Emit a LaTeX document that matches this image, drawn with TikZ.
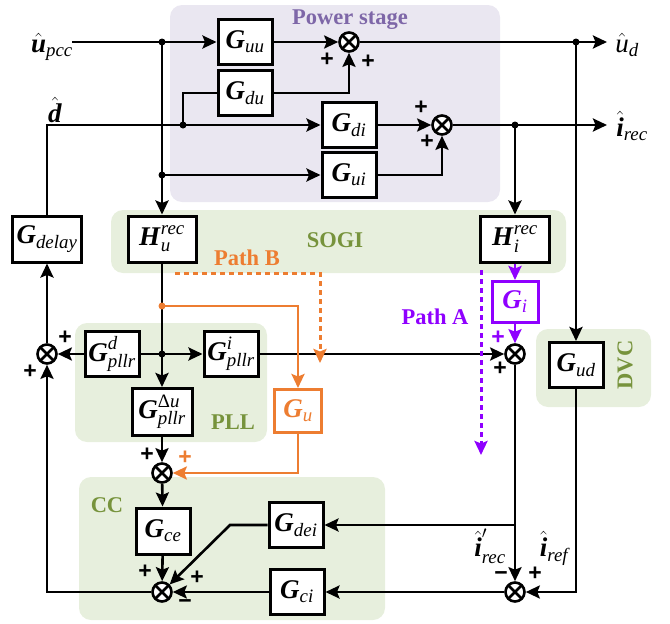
\documentclass[tikz,border=0pt]{standalone}
\usepackage{fontspec}
\usepackage{amsmath}
\setmainfont{Liberation Serif}
\newfontfamily\sgnfont{Liberation Sans}
\usetikzlibrary{arrows.meta}
\definecolor{psbg}{HTML}{EAE7F1}
\definecolor{pstxt}{HTML}{7E67A8}
\definecolor{gbg}{HTML}{E7EFDD}
\definecolor{gtxt}{HTML}{77933C}
\definecolor{orng}{HTML}{ED7D31}
\definecolor{purp}{HTML}{8F00FF}
\newcommand\bi[1]{\textbf{\textit{#1}}}
\newcommand\ti[1]{\textit{#1}}
\begin{document}
\begin{tikzpicture}[x=1pt,y=-1pt,
  font=\fontsize{27}{30}\selectfont,
  blk/.style={draw,line width=3pt,fill=white,minimum width=54pt,minimum height=45pt,inner sep=0pt},
  sumn/.style={circle,draw,line width=2.6pt,fill=white,minimum size=19pt,inner sep=0pt,
    path picture={\draw[line width=2.6pt] (path picture bounding box.north west)--(path picture bounding box.south east)
      (path picture bounding box.north east)--(path picture bounding box.south west);}},
  wire/.style={line width=2.6pt},
  arr/.style={wire,-{Stealth[length=14pt,width=13pt,inset=2.5pt]}},
  sg/.style={font=\sgnfont\bfseries\fontsize{23}{23}\selectfont,inner sep=0pt},
  grp/.style={font=\bfseries\fontsize{22.5}{24}\selectfont,inner sep=0pt},
  lbl/.style={inner sep=0pt},
  dot/.style={circle,fill,inner sep=0pt,minimum size=7pt}]
\useasboundingbox (0,0) rectangle (670,624);
% backgrounds
\fill[psbg,rounded corners=12pt] (170,5) rectangle (500,202);
\fill[gbg,rounded corners=12pt] (111,210) rectangle (566,273);
\fill[gbg,rounded corners=12pt] (75,323) rectangle (267,442);
\fill[gbg,rounded corners=12pt] (536,329) rectangle (651,407);
\fill[gbg,rounded corners=12pt] (79,477) rectangle (385,620);
% group labels
\node[grp,text=pstxt] (tps) at (350,20) {Power stage};
\node[grp,text=gtxt] (tsogi) at (335,240) {SOGI};
\node[grp,text=gtxt] (tpll) at (233,422) {PLL};
\node[grp,text=gtxt] (tcc) at (107,505) {CC};
\node[grp,text=gtxt,rotate=90] (tdvc) at (625,365) {DVC};
\node[grp,text=orng] (tpb) at (247,258) {Path B};
\node[grp,text=purp] (tpa) at (435,317) {Path A};
% blocks
\node[blk] (Guu) at (245,42) {$\bi{G}_{\ti{uu}}$};
\node[blk] (Gdu) at (245,93) {$\bi{G}_{\ti{du}}$};
\node[blk] (Gdi) at (349,125) {$\bi{G}_{\ti{di}}$};
\node[blk] (Gui) at (349,175) {$\bi{G}_{\ti{ui}}$};
\node[blk,minimum width=68pt,minimum height=46pt] (Hu) at (162,239) {$\bi{H}^{\ti{rec}}_{\ti{u}}$};
\node[blk,minimum width=69pt,minimum height=46pt] (Gdel) at (47,239) {$\bi{G}_{\ti{delay}}$};
\node[blk,minimum width=69pt,minimum height=46pt] (Hi) at (515,239) {$\bi{H}^{\ti{rec}}_{\ti{i}}$};
\node[blk,draw=purp,text=purp,minimum width=46pt,minimum height=41pt] (Gi) at (515,302) {$\bi{G}_{\ti{i}}$};
\node[blk] (Gpd) at (112,354) {$\bi{G}^{\ti{d}}_{\ti{pllr}}$};
\node[blk] (Gpi) at (231,354) {$\bi{G}^{\ti{i}}_{\ti{pllr}}$};
\node[blk,minimum width=60pt,minimum height=47pt] (Gpu) at (162,412) {$\bi{G}^{\textup{Δ}\ti{u}}_{\ti{pllr}}$};
\node[blk,draw=orng,text=orng,minimum width=47pt,minimum height=43pt] (Gu) at (298,411) {$\bi{G}_{\ti{u}}$};
\node[blk] (Gud) at (576,365) {$\bi{G}_{\ti{ud}}$};
\node[blk,minimum height=46pt] (Gce) at (163,531) {$\bi{G}_{\ti{ce}}$};
\node[blk] (Gdei) at (296,525) {$\bi{G}_{\ti{dei}}$};
\node[blk] (Gci) at (297,592) {$\bi{G}_{\ti{ci}}$};
% summing junctions
\node[sumn] (s1) at (349,42) {};
\node[sumn] (s2) at (442,125) {};
\node[sumn] (s3) at (162,473) {};
\node[sumn] (s4) at (47,354) {};
\node[sumn] (s5) at (515,354) {};
\node[sumn] (s6) at (515,592) {};
\node[sumn] (s7) at (162,592) {};
% coordinates
\coordinate (upcc) at (72,42);
\coordinate (j1) at (162,42);
\coordinate (j2) at (162,175);
\coordinate (j3) at (183,125);
\coordinate (jud) at (576,42);
\coordinate (j4) at (515,125);
\coordinate (j5) at (162,306);
\coordinate (j6) at (162,354);
\coordinate (j7) at (515,525);
\coordinate (ud) at (607,42);
\coordinate (irec) at (607,125);
\coordinate (gdc) at (230,525);
\coordinate (pb1) at (175,273);
\coordinate (pb2) at (320,273);
\coordinate (pb3) at (320,363);
\coordinate (pa1) at (481,270);
\coordinate (pa2) at (481,455);
% wires
\draw[arr] (upcc) -- (Guu.west);
\draw[arr] (Guu) -- (s1);
\draw[arr] (Gdu.east) -| (s1.south);
\draw[arr] (s1) -- (ud);
\draw[arr] (jud) -- (Gud.north);
\draw[arr] (j1) -- (Hu.north);
\draw[arr] (j2) -- (Gui.west);
\draw[arr] (Gdel.north) |- (Gdi.west);
\draw[wire] (j3) |- (Gdu.west);
\draw[arr] (Gdi) -- (s2);
\draw[arr] (Gui.east) -| (s2.south);
\draw[arr] (s2) -- (irec);
\draw[arr] (j4) -- (Hi.north);
\draw[arr] (Hu.south) -- (Gpu.north);
\draw[arr] (j6) -- (Gpi.west);
\draw[wire] (Gpd.east) -- (j6);
\draw[arr] (Gpd.west) -- (s4);
\draw[arr] (s4) -- (Gdel.south);
\draw[arr] (Gpi.east) -- (s5);
\draw[arr,purp] (Hi.south) -- (Gi.north);
\draw[arr,purp] (Gi.south) -- (s5);
\draw[arr] (s5) -- (s6);
\draw[arr] (j7) -- (Gdei.east);
\draw[arr] (Gud.south) |- (s6.east);
\draw[arr] (s6) -- (Gci.east);
\draw[arr] (Gci.west) -- (s7);
\draw[arr] (Gdei.west) -- (gdc) -- (s7);
\draw[arr] (Gce) -- (s7);
\draw[arr] (s3) -- (Gce);
\draw[arr] (Gpu) -- (s3);
\draw[arr,orng] (Gu.south) |- (s3.east);
\draw[arr,orng] (j5) -| (Gu.north);
\draw[arr] (s7.west) -| (s4.south);
\draw[arr,orng,line width=3pt,dash pattern=on 5pt off 4pt] (pb1) -- (pb2) -- (pb3);
\draw[arr,purp,line width=3pt,dash pattern=on 5pt off 4pt] (pa1) -- (pa2);
% dots
\node[dot] (d1) at (j1) {};
\node[dot] (d2) at (j2) {};
\node[dot] (d3) at (j3) {};
\node[dot] (d4) at (jud) {};
\node[dot] (d5) at (j4) {};
\node[dot,orng] (d6) at (j5) {};
\node[dot] (d7) at (j6) {};
% signal labels
\node[lbl] (lupcc) at (52,47) {$\hat{\bi{u}}_{\ti{pcc}}$};
\node[lbl] (ld) at (55,110) {$\hat{\bi{d}}$};
\node[lbl] (lud) at (627,45) {$\hat{\ti{u}}_{\ti{d}}$};
\node[lbl] (lirec) at (632,126) {$\hat{\bi{i}}_{\ti{rec}}$};
\node[lbl] (lirecp) at (490,546) {$\hat{\bi{i}}'_{\ti{rec}}$};
\node[lbl] (liref) at (554,548) {$\hat{\bi{i}}_{\ti{ref}}$};
% signs
\node[sg] (p1) at (327,60) {+};
\node[sg] (p2) at (368,62) {+};
\node[sg] (p3) at (421,108) {+};
\node[sg] (p4) at (427,142) {+};
\node[sg] (p5) at (65,338) {+};
\node[sg] (p6) at (30,372) {+};
\node[sg,text=purp] (p7) at (498,338) {+};
\node[sg] (p8) at (500,369) {+};
\node[sg] (p9) at (147,455) {+};
\node[sg,text=orng] (p10) at (185,458) {+};
\node[sg] (p11) at (145,572) {+};
\node[sg] (p12) at (197,578) {+};
\node[sg] (p13) at (185,604) {−};
\node[sg] (p14) at (501,576) {−};
\node[sg] (p15) at (535,574) {+};
\end{tikzpicture}
\end{document}
